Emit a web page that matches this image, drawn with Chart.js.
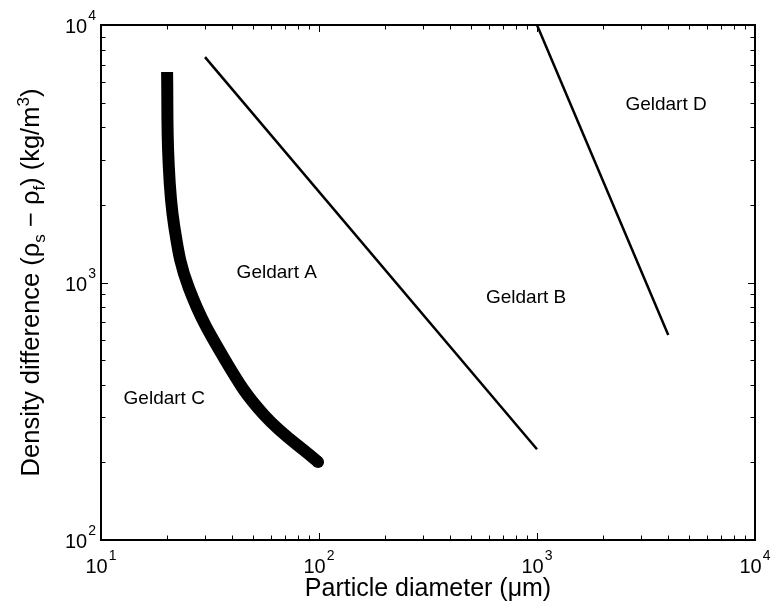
<!DOCTYPE html>
<html>
<head>
<meta charset="utf-8">
<script src="https://cdn.jsdelivr.net/npm/chart.js@4/dist/chart.umd.min.js"></script>
<style>
  html, body { margin: 0; padding: 0; background: #fff; }
  #chart { display: block; }
</style>
</head>
<body>
<canvas id="chart" width="771" height="603"></canvas>
<script>
// axis ticks
const xTickValues = [10, 100, 1000, 10000];
const xTickLabels = ["10^1", "10^2", "10^3", "10^4"];
const yTickValues = [100, 1000, 10000];
const yTickLabels = ["10^2", "10^3", "10^4"];
const minorSteps = [2, 3, 4, 5, 6, 7, 8, 9];

// geldart C / A boundary (thick curve)
const cDiam = [20.1, 20.4, 21.7, 25.3, 37.1, 56, 99];
const cDens = [6570, 2990, 1643, 952, 500, 306, 201];

// geldart A / B boundary
const abDiam = [30, 1000];
const abDens = [7500, 225];

// geldart B / D boundary
const bdDiam = [1000, 4000];
const bdDens = [10000, 625];

// region labels
const regionNames = ["Geldart A", "Geldart B", "Geldart C", "Geldart D"];
const regionDiam = [64, 891, 19.5, 3908];
const regionDens = [1089, 871, 353, 4890];

const FONT = '"Liberation Sans", Arial, sans-serif';

function toPoints(xs, ys) {
  return xs.map((x, i) => ({ x: x, y: ys[i] }));
}

// draws "10" with a raised exponent
function drawPower(ctx, label, x, y, align) {
  let parts = label.split("^");
  ctx.font = "20px " + FONT;
  let wBase = ctx.measureText(parts[0]).width;
  ctx.font = "14px " + FONT;
  let wSup = ctx.measureText(parts[1]).width;
  let total = wBase + wSup + 1;
  let left = x;
  if (align == "center") left = x - total / 2;
  if (align == "right") left = x - total;
  ctx.textAlign = "left";
  ctx.textBaseline = "alphabetic";
  ctx.font = "20px " + FONT;
  ctx.fillText(parts[0], left, y);
  ctx.font = "14px " + FONT;
  ctx.fillText(parts[1], left + wBase + 1, y - 13);
}

// draws a run of [text, kind] pieces, kind = n / sub / sup
function drawRich(ctx, pieces, cx, cy, size) {
  let small = Math.round(size * 0.68);
  let total = 0;
  pieces.forEach((p) => {
    ctx.font = (p[1] == "n" ? size : small) + "px " + FONT;
    total += ctx.measureText(p[0]).width;
  });
  let pos = cx - total / 2;
  ctx.textAlign = "left";
  ctx.textBaseline = "alphabetic";
  pieces.forEach((p) => {
    ctx.font = (p[1] == "n" ? size : small) + "px " + FONT;
    let dy = 0;
    if (p[1] == "sub") dy = 6;
    if (p[1] == "sup") dy = -10;
    ctx.fillText(p[0], pos, cy + dy);
    pos += ctx.measureText(p[0]).width;
  });
}

const axesPlugin = {
  id: "matlabAxes",
  afterDraw(chart) {
    const ctx = chart.ctx;
    const area = chart.chartArea;
    const xs = chart.scales.x;
    const ys = chart.scales.y;
    ctx.save();
    ctx.fillStyle = "#000";
    ctx.strokeStyle = "#000";

    // inward ticks on all four sides
    ctx.lineWidth = 1;
    ctx.beginPath();
    xTickValues.forEach((v, i) => {
      let steps = i < xTickValues.length - 1 ? [1].concat(minorSteps) : [1];
      steps.forEach((m) => {
        let px = Math.round(xs.getPixelForValue(v * m)) + 0.5;
        let len = m == 1 ? 7 : 4.5;
        ctx.moveTo(px, area.bottom);
        ctx.lineTo(px, area.bottom - len);
        ctx.moveTo(px, area.top);
        ctx.lineTo(px, area.top + len);
      });
    });
    yTickValues.forEach((v, i) => {
      let steps = i < yTickValues.length - 1 ? [1].concat(minorSteps) : [1];
      steps.forEach((m) => {
        let py = Math.round(ys.getPixelForValue(v * m)) + 0.5;
        let len = m == 1 ? 7 : 4.5;
        ctx.moveTo(area.left, py);
        ctx.lineTo(area.left + len, py);
        ctx.moveTo(area.right, py);
        ctx.lineTo(area.right - len, py);
      });
    });
    ctx.stroke();

    // box
    ctx.lineWidth = 2;
    ctx.strokeRect(area.left, area.top, area.right - area.left, area.bottom - area.top);

    // tick labels
    xTickValues.forEach((v, i) => {
      drawPower(ctx, xTickLabels[i], xs.getPixelForValue(v), area.bottom + 33, "center");
    });
    yTickValues.forEach((v, i) => {
      drawPower(ctx, yTickLabels[i], area.left - 5, ys.getPixelForValue(v) + 8, "right");
    });

    // axis titles
    drawRich(ctx, [["Particle diameter (\u03bcm)", "n"]], (area.left + area.right) / 2, 596, 25);
    ctx.save();
    ctx.translate(39, (area.top + area.bottom) / 2);
    ctx.rotate(-Math.PI / 2);
    drawRich(ctx, [
      ["Density difference (\u03c1", "n"],
      ["s", "sub"],
      [" \u2212 \u03c1", "n"],
      ["f", "sub"],
      [") (kg/m", "n"],
      ["3", "sup"],
      [")", "n"],
    ], 0, 0, 25.5);
    ctx.restore();

    // region labels
    ctx.font = "19px " + FONT;
    ctx.textAlign = "center";
    ctx.textBaseline = "middle";
    regionNames.forEach((name, i) => {
      ctx.fillText(name, xs.getPixelForValue(regionDiam[i]), ys.getPixelForValue(regionDens[i]));
    });
    ctx.restore();
  },
};

let capRadius = cDiam.map((d, i) => (i == cDiam.length - 1 ? 6 : 0));

const config = {
  type: "scatter",
  data: {
    datasets: [
      {
        label: "C/A",
        data: toPoints(cDiam, cDens),
        showLine: true,
        borderColor: "#000",
        borderWidth: 12,
        tension: 0.4,
        borderCapStyle: "butt",
        borderJoinStyle: "round",
        pointRadius: capRadius,
        pointBackgroundColor: "#000",
        pointBorderWidth: 0,
      },
      {
        label: "A/B",
        data: toPoints(abDiam, abDens),
        showLine: true,
        borderColor: "#000",
        borderWidth: 2.5,
        pointRadius: 0,
      },
      {
        label: "B/D",
        data: toPoints(bdDiam, bdDens),
        showLine: true,
        borderColor: "#000",
        borderWidth: 2.5,
        pointRadius: 0,
      },
    ],
  },
  options: {
    responsive: false,
    animation: false,
    events: [],
    layout: {
      padding: { left: 101, right: 16, top: 25, bottom: 63 },
    },
    scales: {
      x: { type: "logarithmic", min: 10, max: 10000, display: false },
      y: { type: "logarithmic", min: 100, max: 10000, display: false },
    },
    plugins: {
      legend: { display: false },
      tooltip: { enabled: false },
    },
  },
  plugins: [axesPlugin],
};

let chart = new Chart(document.getElementById("chart"), config);
</script>
</body>
</html>
